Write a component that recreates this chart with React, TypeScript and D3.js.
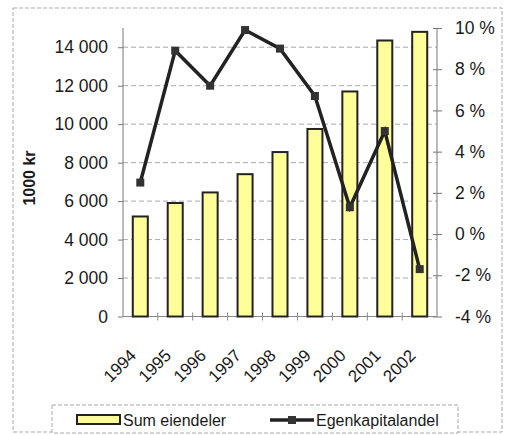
import { useRef, useEffect } from "react";
import * as d3 from "d3";

const years = ["1994", "1995", "1996", "1997", "1998", "1999", "2000", "2001", "2002"];
const sumEiendeler = [5200, 5900, 6450, 7400, 8550, 9750, 11700, 14350, 14800];
const egenkapitalandel = [2.5, 8.9, 7.2, 9.9, 9.0, 6.7, 1.3, 5.0, -1.7];
const leftTicks = [0, 2000, 4000, 6000, 8000, 10000, 12000, 14000];
const rightTicks = [-4, -2, 0, 2, 4, 6, 8, 10];

const FONT = "'Liberation Sans', Arial, sans-serif";

export default function App() {
  const ref = useRef<SVGSVGElement | null>(null);

  useEffect(() => {
    const svg = d3.select(ref.current);
    svg.selectAll("*").remove();
    const width = 508;
    const height = 435;
    const left = 123, right = 437, top = 28, bottom = 316.5;

    svg.append("rect").attr("width", width).attr("height", height).attr("fill", "#fff");

    // outer border
    svg.append("rect")
      .attr("x", 13).attr("y", 8).attr("width", 489).attr("height", 424)
      .attr("fill", "none").attr("stroke", "#aaa").attr("stroke-dasharray", "4,2");

    const x = d3.scaleBand().domain(years).range([left, right]).paddingInner(0.57).paddingOuter(0.28);
    const yL = d3.scaleLinear().domain([0, 15000]).range([bottom, top]);
    const yR = d3.scaleLinear().domain([-4, 10]).range([bottom, top]);
    const fmt = (v: number) => d3.format(",")(v).replace(",", " ");

    // gridlines
    svg.append("g").selectAll("line").data(leftTicks.filter(d => d > 0)).join("line")
      .attr("x1", left).attr("x2", right)
      .attr("y1", d => yL(d)).attr("y2", d => yL(d))
      .attr("stroke", "#aaa").attr("stroke-dasharray", "5,3");

    // left axis
    const gl = svg.append("g").attr("transform", `translate(${left},0)`)
      .call(d3.axisLeft(yL).tickValues(leftTicks).tickFormat(d => fmt(+d)).tickSize(5).tickPadding(10));
    gl.select(".domain").attr("stroke", "#777").attr("d", `M0,${top}V${bottom}`);
    gl.selectAll(".tick line").attr("stroke", "#777");
    gl.selectAll("text").attr("font-family", FONT).attr("font-size", 17.5).attr("fill", "#1a1a1a");

    // right axis
    const gr = svg.append("g").attr("transform", `translate(${right},0)`)
      .call(d3.axisRight(yR).tickValues(rightTicks).tickFormat(d => `${d} %`).tickSize(5).tickPadding(13));
    gr.select(".domain").attr("stroke", "#777").attr("d", `M0,${top}V${bottom}`);
    gr.selectAll(".tick line").attr("stroke", "#777").attr("x1", -4);
    gr.selectAll("text").attr("font-family", FONT).attr("font-size", 17.5).attr("fill", "#1a1a1a");

    // bottom axis
    const step = x.step();
    svg.append("line").attr("x1", left).attr("x2", right).attr("y1", bottom).attr("y2", bottom)
      .attr("stroke", "#888");
    svg.append("g").selectAll("line").data(years.slice(1)).join("line")
      .attr("x1", d => x(d)! - (step - x.bandwidth()) / 2).attr("x2", d => x(d)! - (step - x.bandwidth()) / 2)
      .attr("y1", bottom - 4).attr("y2", bottom + 4).attr("stroke", "#888");
    svg.append("g").selectAll("text").data(years).join("text")
      .attr("transform", d => `translate(${x(d)! + x.bandwidth() / 2 - 3},${bottom + 40}) rotate(-45)`)
      .attr("text-anchor", "end")
      .attr("font-family", FONT).attr("font-size", 17).attr("fill", "#1a1a1a")
      .text(d => d);

    // bars
    svg.append("g").selectAll("rect").data(years).join("rect")
      .attr("x", d => x(d)!).attr("width", x.bandwidth())
      .attr("y", (d, i) => yL(sumEiendeler[i]))
      .attr("height", (d, i) => bottom - yL(sumEiendeler[i]))
      .attr("fill", "#ffff99").attr("stroke", "#222").attr("stroke-width", 2);

    // line
    const line = d3.line<number>()
      .x((d, i) => x(years[i])! + x.bandwidth() / 2)
      .y(d => yR(d));
    svg.append("path").datum(egenkapitalandel).attr("d", line)
      .attr("fill", "none").attr("stroke", "#222").attr("stroke-width", 3.5);
    svg.append("g").selectAll("rect").data(egenkapitalandel).join("rect")
      .attr("x", (d, i) => x(years[i])! + x.bandwidth() / 2 - 4)
      .attr("y", d => yR(d) - 4)
      .attr("width", 8).attr("height", 8).attr("fill", "#333");

    // y title
    svg.append("text")
      .attr("transform", "translate(35,178) rotate(-90)")
      .attr("text-anchor", "middle")
      .attr("font-family", FONT).attr("font-size", 16).attr("font-weight", "bold").attr("fill", "#1a1a1a")
      .text("1000 kr");

    // legend
    const lg = svg.append("g");
    lg.append("rect").attr("x", 52).attr("y", 405).attr("width", 406).attr("height", 28)
      .attr("fill", "#fff").attr("stroke", "#aaa").attr("stroke-dasharray", "4,2");
    lg.append("rect").attr("x", 77).attr("y", 415).attr("width", 43).attr("height", 9)
      .attr("fill", "#ffff99").attr("stroke", "#222").attr("stroke-width", 2);
    lg.append("text").attr("x", 123).attr("y", 426)
      .attr("font-family", FONT).attr("font-size", 16).attr("fill", "#1a1a1a").text("Sum eiendeler");
    lg.append("line").attr("x1", 270).attr("x2", 314).attr("y1", 420).attr("y2", 420)
      .attr("stroke", "#222").attr("stroke-width", 3.5);
    lg.append("rect").attr("x", 288).attr("y", 416).attr("width", 8).attr("height", 8).attr("fill", "#333");
    lg.append("text").attr("x", 316).attr("y", 426)
      .attr("font-family", FONT).attr("font-size", 16).attr("fill", "#1a1a1a").text("Egenkapitalandel");
  }, []);

  return (
    <svg ref={ref} width={508} height={435}
      style={{ position: "absolute", left: 0, top: 0, display: "block" }} />
  );
}
